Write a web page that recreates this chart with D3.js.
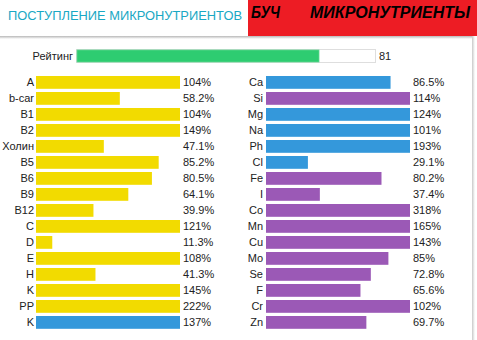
<!DOCTYPE html>
<html><head><meta charset="utf-8">
<script src="https://cdn.jsdelivr.net/npm/d3@7"></script>
<style>html,body{margin:0;padding:0;background:#fff;}svg{display:block;font-family:"Liberation Sans",Arial,sans-serif;}</style>
</head><body>
<script>
const titleText = "ПОСТУПЛЕНИЕ МИКРОНУТРИЕНТОВ";
const bannerLeft = "БУЧ";
const bannerRight = "МИКРОНУТРИЕНТЫ";
const ratingLabel = "Рейтинг";
const ratingValue = 81;

const leftLabels = ["A","b-car","B1","B2","Холин","B5","B6","B9","B12","C","D","E","H","K","PP","K"];
const leftValues = [104,58.2,104,149,47.1,85.2,80.5,64.1,39.9,121,11.3,108,41.3,145,222,137];
const leftGroups = ["vit","vit","vit","vit","vit","vit","vit","vit","vit","vit","vit","vit","vit","vit","vit","macro"];

const rightLabels = ["Ca","Si","Mg","Na","Ph","Cl","Fe","I","Co","Mn","Cu","Mo","Se","F","Cr","Zn"];
const rightValues = [86.5,114,124,101,193,29.1,80.2,37.4,318,165,143,85,72.8,65.6,102,69.7];
const rightGroups = ["macro","micro","macro","macro","macro","macro","micro","micro","micro","micro","micro","micro","micro","micro","micro","micro"];

const colors = {vit:"#f2db00", macro:"#3498db", micro:"#9b59b6"};

const W = 477, H = 340;
const svg = d3.select("body").append("svg").attr("width", W).attr("height", H);

const defs = svg.append("defs");
const gh = defs.append("linearGradient").attr("id","shH").attr("x1",0).attr("y1",0).attr("x2",0).attr("y2",1);
gh.append("stop").attr("offset","0%").attr("stop-color","#b8b8b8");
gh.append("stop").attr("offset","100%").attr("stop-color","#ffffff");
const gv = defs.append("linearGradient").attr("id","shV").attr("x1",0).attr("y1",0).attr("x2",1).attr("y2",0);
gv.append("stop").attr("offset","0%").attr("stop-color","#c8c8c8");
gv.append("stop").attr("offset","100%").attr("stop-color","#ffffff");

// shadow lines
svg.append("rect").attr("x",0).attr("y",36).attr("width",474).attr("height",3).attr("fill","url(#shH)");
svg.append("rect").attr("x",472).attr("y",36).attr("width",3).attr("height",H-36).attr("fill","url(#shV)");

// title
svg.append("text").attr("x",8).attr("y",20).attr("font-size",13).attr("fill","#1aa8c4")
  .attr("textLength",234).attr("lengthAdjust","spacingAndGlyphs").text(titleText);

// red banner
svg.append("rect").attr("x",248).attr("y",0).attr("width",W-248).attr("height",36).attr("fill","#ed1c24");
svg.append("text").attr("x",251).attr("y",17.5).attr("font-size",16).attr("font-weight","bold").attr("font-style","italic")
  .attr("fill","#000").attr("textLength",29).attr("lengthAdjust","spacingAndGlyphs").text(bannerLeft);
svg.append("text").attr("x",310).attr("y",17.5).attr("font-size",16).attr("font-weight","bold").attr("font-style","italic")
  .attr("fill","#000").attr("textLength",160).attr("lengthAdjust","spacingAndGlyphs").text(bannerRight);

// rating bar
const xr = d3.scaleLinear().domain([0,100]).range([76,376]);
svg.append("rect").attr("x",xr(0)+0.5).attr("y",49.5).attr("width",xr(100)-xr(0)-1).attr("height",13)
  .attr("fill","#fff").attr("stroke","#dedede");
svg.append("rect").attr("x",xr(0)+1).attr("y",50).attr("width",xr(ratingValue)-xr(0)-1).attr("height",12)
  .attr("fill","#2ecc71").attr("stroke","#5fd690").attr("stroke-width",0.8);
svg.append("text").attr("x",73).attr("y",56).attr("dy","0.35em").attr("text-anchor","end")
  .attr("font-size",11).attr("fill","#222").text(ratingLabel);
svg.append("text").attr("x",379).attr("y",56).attr("dy","0.35em")
  .attr("font-size",11).attr("fill","#222").text(ratingValue);

// rows
const y = d3.scaleBand().domain(d3.range(16)).range([76, 76+256]).paddingInner(0.2).paddingOuter(0.1).align(0);
const fmt = d3.format(".3~r");

function column(labels, values, groups, x0, labelX) {
  const x = d3.scaleLinear().domain([0,100]).range([x0, x0+144]).clamp(true);
  const g = svg.append("g");
  const rows = g.selectAll("g").data(d3.range(labels.length)).join("g");
  rows.append("rect").attr("x",x(0)).attr("y",i=>y(i)).attr("width",i=>x(values[i])-x(0))
    .attr("height",y.bandwidth()).attr("fill",i=>colors[groups[i]]);
  rows.append("text").attr("x",labelX).attr("y",i=>y(i)+y.bandwidth()/2).attr("dy","0.35em")
    .attr("text-anchor","end").attr("font-size",11).attr("fill","#222").text(i=>labels[i]);
  rows.append("text").attr("x",x(100)+3).attr("y",i=>y(i)+y.bandwidth()/2).attr("dy","0.35em")
    .attr("font-size",11).attr("fill","#222").text(i=>fmt(values[i])+"%");
}
column(leftLabels, leftValues, leftGroups, 36, 34);
column(rightLabels, rightValues, rightGroups, 266, 263);
</script>
</body></html>
